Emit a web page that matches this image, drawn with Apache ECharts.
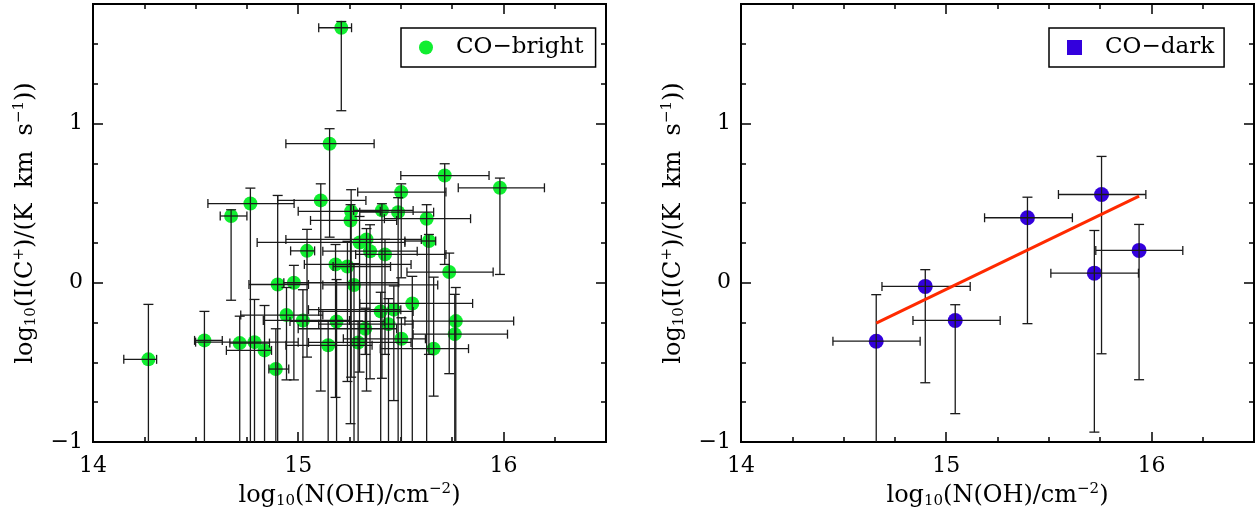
<!DOCTYPE html>
<html><head><meta charset="utf-8">
<script src="https://cdn.jsdelivr.net/npm/echarts@6/dist/echarts.min.js"></script>
<style>html,body{margin:0;padding:0;background:#fff}#c{width:1258px;height:514px}</style>
</head><body><div id="c"></div>
<script>
// ---------- data ----------
const brightX   = [14.270,14.543,14.673,14.767,14.715,14.787,14.836,14.891,14.900,14.979,14.943,15.023,15.043,15.110,15.153,15.210,15.182,15.240,15.272,15.187,15.146,15.258,15.255,15.408,15.487,15.626,15.637,15.714,15.502,15.983,15.299,15.333,15.350,15.423,15.736,15.556,15.402,15.466,15.327,15.440,15.768,15.763,15.503,15.292,15.660];
const brightY   = [-0.481,-0.362,0.419,0.497,-0.379,-0.373,-0.425,-0.542,-0.011,0.000,-0.203,-0.237,0.200,0.517,0.873,1.601,0.115,0.102,-0.014,-0.243,-0.393,0.448,0.391,0.454,0.443,0.402,0.262,0.673,0.569,0.596,0.253,0.272,0.198,0.178,0.067,-0.130,-0.180,-0.169,-0.289,-0.260,-0.241,-0.323,-0.352,-0.375,-0.414];
const brightXLo = [14.15,14.495,14.62,14.56,14.667,14.50,14.65,14.857,14.76,14.93,14.72,14.83,14.963,14.90,14.94,15.10,15.03,15.17,15.12,14.96,14.94,15.00,15.06,15.27,15.30,15.42,15.52,15.50,15.29,15.78,14.80,14.94,15.12,15.28,15.53,15.30,15.10,15.05,15.00,15.10,15.52,15.56,15.22,15.05,15.40];
const brightXHi = [14.31,14.63,14.75,14.98,14.86,15.00,14.87,14.954,15.05,15.49,15.12,15.25,15.08,15.33,15.37,15.26,15.55,15.45,15.68,15.42,15.36,15.40,15.48,15.56,15.66,15.84,15.67,15.93,15.72,16.20,15.52,15.60,15.58,15.72,15.95,15.85,15.56,15.50,15.48,15.56,16.05,16.02,15.62,15.55,15.83];
const brightYLo = [-1.5,-1.5,-0.11,-1.5,-1.5,-1.5,-1.5,-1.5,-1.5,-0.61,-0.61,-1.5,-0.467,-0.68,0.286,1.08,-0.72,-0.62,-1.5,-1.5,-1.5,-0.593,-0.885,-0.60,-1.5,-1.5,-0.45,0.115,0.031,0.052,-0.561,-0.68,-0.603,-0.45,-0.571,-1.5,-1.5,-0.74,-0.45,-1.5,-1.5,-1.5,-1.5,-1.5,-0.712];
const brightYHi = [-0.136,-0.18,0.458,0.594,-0.21,-0.105,-0.143,-0.289,0.548,0.109,-0.03,-0.044,0.335,0.621,0.967,1.64,0.24,0.26,0.12,0.02,-0.24,0.584,0.49,0.496,0.534,0.49,0.303,0.747,0.621,0.657,0.416,0.34,0.364,0.272,0.186,0.04,-0.06,-0.02,-0.16,-0.10,-0.03,-0.073,-0.22,-0.24,0.035];

const darkX   = [14.659,14.898,15.044,15.396,15.757,15.722,15.940];
const darkY   = [-0.367,-0.023,-0.237,0.408,0.554,0.060,0.203];
const darkXLo = [14.448,14.687,14.838,15.187,15.547,15.510,15.729];
const darkXHi = [14.873,15.117,15.263,15.615,15.973,15.937,16.153];
const darkYLo = [-1.5,-0.628,-0.822,-0.257,-0.446,-0.938,-0.609];
const darkYHi = [-0.075,0.082,-0.138,0.537,0.793,0.328,0.366];

const fitX = [14.659, 15.940];
const fitY = [-0.254, 0.544];

const seriesNames = ['CO\u2212bright', 'CO\u2212dark'];

// ---------- styling / scale ----------
const X_MIN = 14, X_MAX = 16.5, Y_MIN = -1, Y_MAX = 1.75;
const F = 'DejaVu Serif';
const nameRich = {
  n:   {fontFamily:F, fontSize:24, color:'#000'},
  sub: {fontFamily:F, fontSize:15, color:'#000', padding:[11,0,0,0]},
  sup: {fontFamily:F, fontSize:15, color:'#000', padding:[0,0,13,0]}
};
const xName = '{n|log}{sub|10}{n|(N(OH)/cm}{sup|\u22122}{n|)}';
const yName = '{n|log}{sub|10}{n|(I(C}{sup|+}{n|)/(K  km  s}{sup|\u22121}{n|))}';

function fmt(v){
  if (Math.abs(v - Math.round(v)) < 1e-9) return String(Math.round(v)).replace('-', '\u2212');
  return '';
}
function makeAxis(dim, gi, pos, step, len, labels){
  const isX = dim === 'x';
  return {
    type:'value', gridIndex:gi, position:pos,
    min: isX ? X_MIN : Y_MIN, max: isX ? X_MAX : Y_MAX, interval: step,
    axisLine:{show:true, onZero:false, lineStyle:{color:'#000', width:2}},
    axisTick:{show:true, inside:true, length:len, lineStyle:{color:'#000', width:1.5}},
    axisLabel:{show:labels, margin: isX ? 13 : 10, fontFamily:F, fontSize:22, color:'#000', formatter:fmt},
    splitLine:{show:false},
    name: labels ? (isX ? xName : yName) : '',
    nameLocation:'middle',
    nameGap: isX ? 40 : 53,
    nameRotate: isX ? 0 : 90,
    nameTextStyle:{fontFamily:F, fontSize:24, color:'#000', rich:nameRich}
  };
}
const xAxes = [], yAxes = [];
[0,1].forEach(gi => {
  xAxes.push(makeAxis('x', gi, 'bottom', 1, 10, true));
  xAxes.push(makeAxis('x', gi, 'bottom', 0.25, 5, false));
  xAxes.push(makeAxis('x', gi, 'top', 1, 10, false));
  xAxes.push(makeAxis('x', gi, 'top', 0.25, 5, false));
  yAxes.push(makeAxis('y', gi, 'left', 1, 10, true));
  yAxes.push(makeAxis('y', gi, 'left', 0.25, 5, false));
  yAxes.push(makeAxis('y', gi, 'right', 1, 10, false));
  yAxes.push(makeAxis('y', gi, 'right', 0.25, 5, false));
});

function errRender(params, api){
  const x = api.value(0), y = api.value(1);
  const xl = api.value(2), xh = api.value(3), yl = api.value(4), yh = api.value(5);
  const x0 = Math.max(xl, X_MIN), x1 = Math.min(xh, X_MAX);
  const y0 = Math.max(yl, Y_MIN), y1 = Math.min(yh, Y_MAX);
  const pl = api.coord([x0, y]), ph = api.coord([x1, y]);
  const pb = api.coord([x, y0]), pt = api.coord([x, y1]);
  const st = {stroke:'#1a1a1a', lineWidth:1.3};
  const L = (a,b,c,d) => ({type:'line', shape:{x1:a,y1:b,x2:c,y2:d}, style:st});
  const cap = 4.5;
  const ch = [L(pl[0],pl[1],ph[0],ph[1]), L(pb[0],pb[1],pt[0],pt[1])];
  if (xl >= X_MIN) ch.push(L(pl[0],pl[1]-cap,pl[0],pl[1]+cap));
  if (xh <= X_MAX) ch.push(L(ph[0],ph[1]-cap,ph[0],ph[1]+cap));
  if (yl >= Y_MIN) ch.push(L(pb[0]-cap-0.5,pb[1],pb[0]+cap+0.5,pb[1]));
  if (yh <= Y_MAX) ch.push(L(pt[0]-cap-0.5,pt[1],pt[0]+cap+0.5,pt[1]));
  return {type:'group', children:ch};
}

const brightData = brightX.map((x,i)=>[x, brightY[i]]);
const brightErr  = brightX.map((x,i)=>[x, brightY[i], brightXLo[i], brightXHi[i], brightYLo[i], brightYHi[i]]);
const darkData   = darkX.map((x,i)=>[x, darkY[i]]);
const darkErr    = darkX.map((x,i)=>[x, darkY[i], darkXLo[i], darkXHi[i], darkYLo[i], darkYHi[i]]);
const fitData    = fitX.map((x,i)=>[x, fitY[i]]);

const GREEN = '#10ee30', BLUE = '#3300dd', RED = '#ff2a00';

const option = {
  animation:false,
  backgroundColor:'#fff',
  grid:[
    {left:93, top:4, width:513, height:438, containLabel:false},
    {left:741, top:4, width:513, height:438, containLabel:false}
  ],
  xAxis:xAxes, yAxis:yAxes,
  legend:[
    {data:[{name:seriesNames[0], icon:'circle'}], left:401, top:28, padding:[8,12,8,18],
     itemWidth:14, itemHeight:14, selectedMode:false, borderColor:'#000', borderWidth:1.5, borderRadius:0,
     backgroundColor:'#fff', textStyle:{fontFamily:F, fontSize:23, color:'#000', padding:[0,0,0,18]}},
    {data:[{name:seriesNames[1], icon:'rect'}], left:1049, top:28, padding:[8,10,8,18],
     itemWidth:15, itemHeight:15, selectedMode:false, borderColor:'#000', borderWidth:1.5, borderRadius:0,
     backgroundColor:'#fff', textStyle:{fontFamily:F, fontSize:23, color:'#000', padding:[0,0,0,18]}}
  ],
  series:[
    {name:seriesNames[0], type:'scatter', xAxisIndex:0, yAxisIndex:0, data:brightData,
     symbol:'circle', symbolSize:14, itemStyle:{color:GREEN, opacity:1}, z:2},
    {type:'custom', xAxisIndex:0, yAxisIndex:0, data:brightErr, renderItem:errRender,
     encode:{x:0, y:1}, clip:true, z:3, silent:true},
    {name:seriesNames[1], type:'scatter', xAxisIndex:4, yAxisIndex:4, data:darkData,
     symbol:'circle', symbolSize:15, itemStyle:{color:BLUE, opacity:1}, z:2},
    {type:'custom', xAxisIndex:4, yAxisIndex:4, data:darkErr, renderItem:errRender,
     encode:{x:0, y:1}, clip:true, z:3, silent:true},
    {type:'line', xAxisIndex:4, yAxisIndex:4, data:fitData, showSymbol:false, symbol:'none',
     lineStyle:{color:RED, width:3}, z:4, silent:true}
  ]
};
const chart = echarts.init(document.getElementById('c'), null, {renderer:'canvas'});
chart.setOption(option);
</script>
</body></html>
